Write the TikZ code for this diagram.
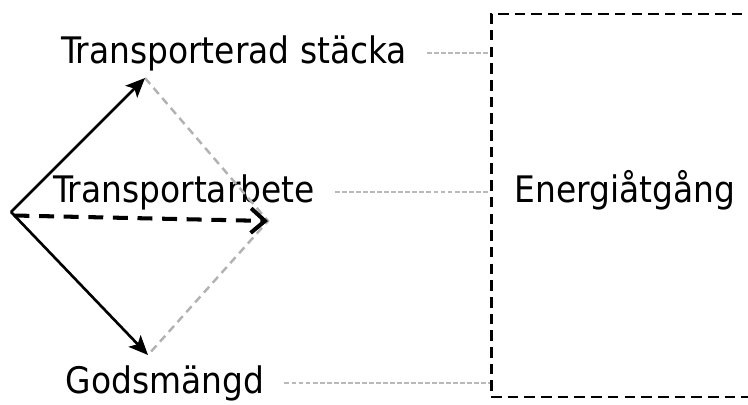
\documentclass[tikz,border=0pt]{standalone}
\usepackage{fontspec}
\setmainfont{DejaVu Sans Condensed}
\usetikzlibrary{arrows.meta}
\begin{document}
\begin{tikzpicture}[>={Stealth[length=11pt,width=9.5pt,inset=2.5pt]},font=\fontsize{20.8}{25}\selectfont,
	vec/.style={->,line width=1.5pt},
	resultat/.style={-{Straight Barb[length=8pt,width=14pt]},line width=2.3pt,dash pattern=on 8.5pt off 5.5pt},
	hjalp/.style={gray!60,line width=1.4pt,dash pattern=on 4.5pt off 3pt},
	koppling/.style={gray!55,line width=1.6pt,dash pattern=on 2.8pt off 1.2pt},
	ruta/.style={draw,line width=1.7pt,dash pattern=on 6pt off 3.5pt,minimum width=5.36cm,minimum height=7.66cm,inner sep=0pt}]
	\useasboundingbox (0,0) rectangle (14.96,8.08);
	\clip (0,0) rectangle (14.96,8.08);
	\coordinate (O) at (0.22,3.84);
	\coordinate (S) at (2.9,6.52);
	\coordinate (G) at (2.96,0.98);
	\coordinate (R) at (5.36,3.66);
	\node (stacka) at (4.68,7.02) {Transporterad stäcka};
	\node (arbete) at (3.68,4.24) {Transportarbete};
	\node (gods) at (3.3,0.42) {Godsmängd};
	\node[ruta] (box) at (12.5,3.97) {};
	\node (energi) at (12.5,4.28) {Energiåtgång};
	\draw[hjalp] (S)--(R)--(G);
	\draw[vec] (O)--(S);
	\draw[vec] (O)--(G);
	\draw[resultat] ([xshift=2pt,yshift=-2pt]O)--(R);
	\draw[koppling,shorten <=8pt] (stacka)--(stacka-|box.west);
	\draw[koppling,shorten <=8pt] (arbete)--(arbete-|box.west);
	\draw[koppling,shorten <=8pt] (gods)--(gods-|box.west);
\end{tikzpicture}
\end{document}
